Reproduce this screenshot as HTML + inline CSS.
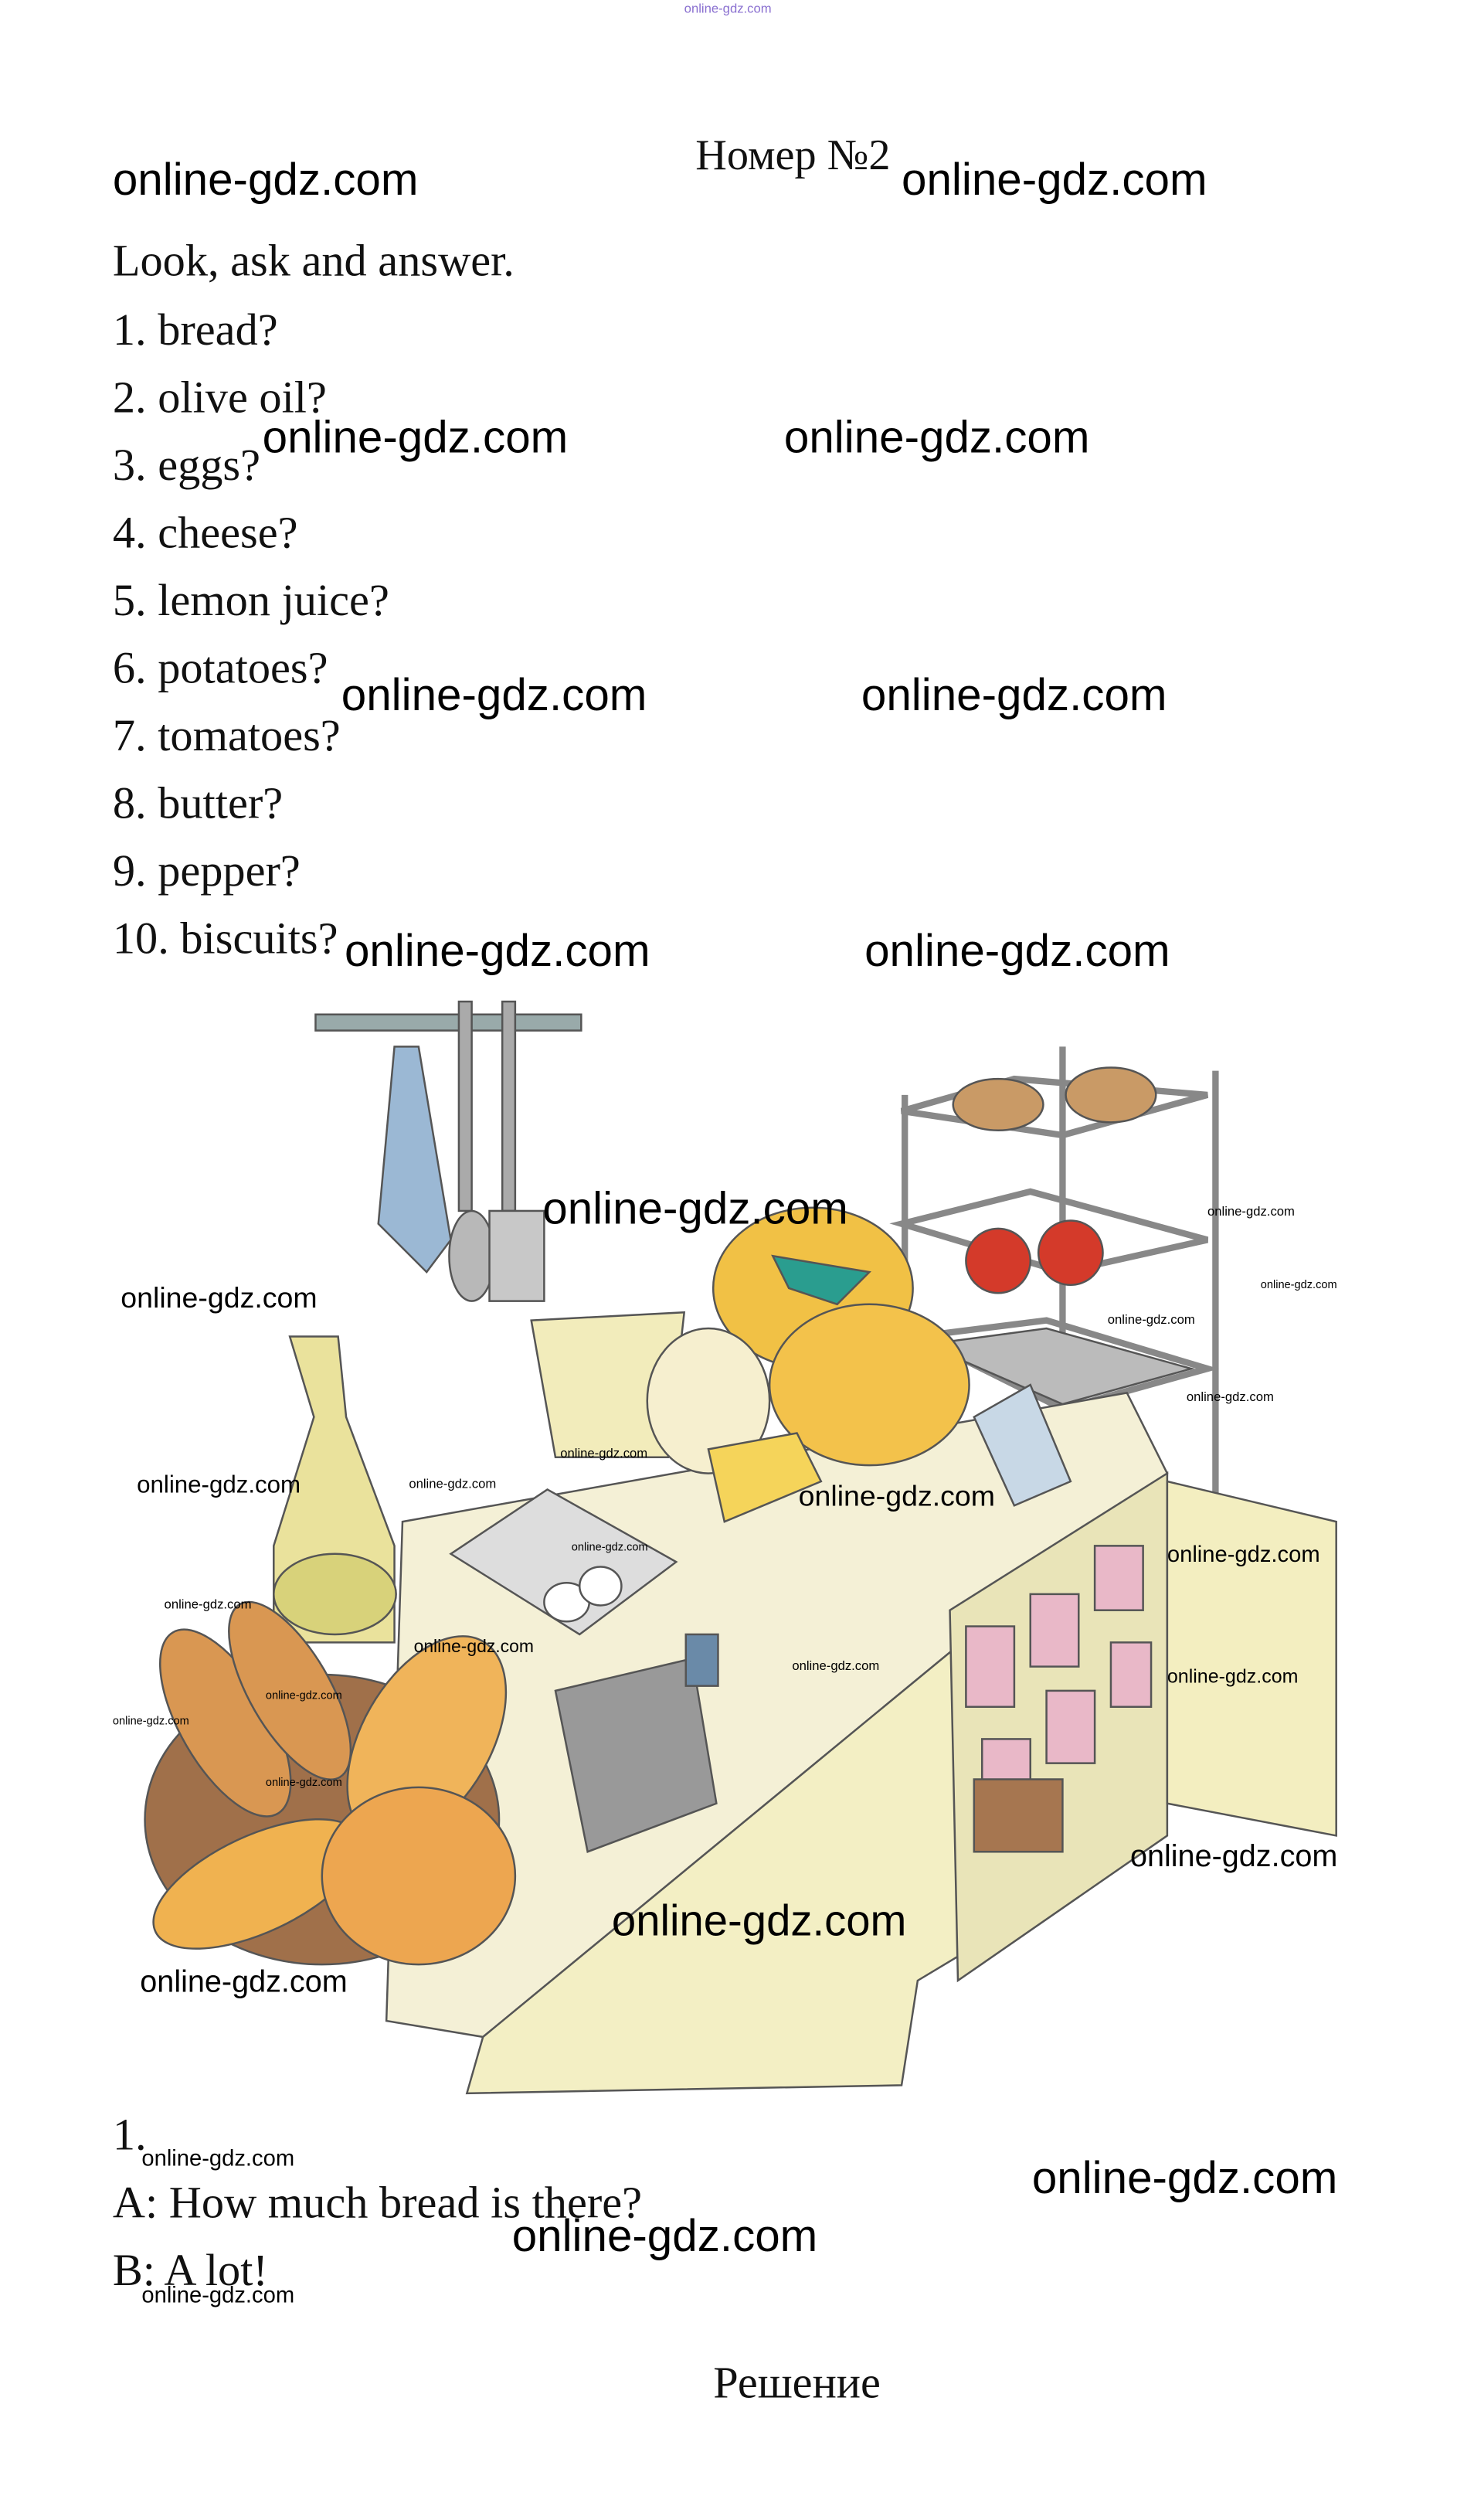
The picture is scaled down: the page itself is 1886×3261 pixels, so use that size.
<!DOCTYPE html>
<html><head><meta charset="utf-8"><style>
html,body{margin:0;padding:0;background:#fff;}
svg{display:block;}
.s{font-family:"Liberation Serif","DejaVu Serif",serif;fill:#111;}
.w{font-family:"Liberation Sans","DejaVu Sans",sans-serif;fill:#000;}
</style></head><body>
<svg width="1886" height="3261" viewBox="0 0 905 1565" preserveAspectRatio="none" xmlns="http://www.w3.org/2000/svg">
<rect width="905" height="1565" fill="#fff"/>
<text x="425" y="8" class="w" font-size="8" style="fill:#8a70d0">online-gdz.com</text>
<text x="432" y="105" class="s" font-size="27">Номер №2</text>
<g class="s" font-size="28" textLength="0">
<text x="70" y="171">Look, ask and answer.</text>
<text x="70" y="214">1. bread?</text>
<text x="70" y="256">2. olive oil?</text>
<text x="70" y="298">3. eggs?</text>
<text x="70" y="340">4. cheese?</text>
<text x="70" y="382">5. lemon juice?</text>
<text x="70" y="424">6. potatoes?</text>
<text x="70" y="466">7. tomatoes?</text>
<text x="70" y="508">8. butter?</text>
<text x="70" y="550">9. pepper?</text>
<text x="70" y="592">10. biscuits?</text>
</g>
<!-- illustration -->
<g stroke="#555" stroke-width="1.2">
<rect x="196" y="630" width="165" height="10" fill="#9aa" />
<path d="M245 650 L235 760 L265 790 L280 770 L260 650Z" fill="#9bb8d4"/>
<rect x="285" y="622" width="8" height="130" fill="#aaa"/>
<ellipse cx="293" cy="780" rx="14" ry="28" fill="#b8b8b8"/>
<rect x="312" y="622" width="8" height="130" fill="#aaa"/>
<rect x="304" y="752" width="34" height="56" fill="#c8c8c8"/>
<g fill="none" stroke="#888" stroke-width="4">
<line x1="562" y1="680" x2="562" y2="850"/><line x1="660" y1="650" x2="660" y2="870"/><line x1="755" y1="665" x2="755" y2="930"/>
<path d="M560 690 L630 670 L750 680 L660 705Z"/><path d="M560 760 L640 740 L750 770 L660 790Z"/><path d="M570 830 L650 820 L750 850 L660 875Z"/>
</g>
<ellipse cx="620" cy="686" rx="28" ry="16" fill="#c99a66"/><ellipse cx="690" cy="680" rx="28" ry="17" fill="#c99a66"/>
<circle cx="620" cy="783" r="20" fill="#d43a2a"/><circle cx="665" cy="778" r="20" fill="#d43a2a"/>
<path d="M575 835 L650 825 L740 850 L660 872Z" fill="#bbb"/>
<path d="M250 945 L700 865 L725 915 L300 1265 L240 1255Z" fill="#f4f0d6"/>
<path d="M300 1265 L725 915 L720 1140 L570 1230 L560 1295 L290 1300Z" fill="#f3efc4"/>
<path d="M590 1000 L725 915 L725 1140 L595 1230Z" fill="#e9e4b8"/>
<path d="M725 920 L830 945 L830 1140 L725 1120Z" fill="#f3eec0"/>
<g fill="#e9b8c8"><rect x="600" y="1010" width="30" height="50"/><rect x="640" y="990" width="30" height="45"/><rect x="680" y="960" width="30" height="40"/><rect x="610" y="1080" width="30" height="45"/><rect x="650" y="1050" width="30" height="45"/><rect x="690" y="1020" width="25" height="40"/></g>
<rect x="605" y="1105" width="55" height="45" fill="#a67650"/>
<path d="M180 830 L210 830 L215 880 L245 960 L245 1020 L170 1020 L170 960 L195 880Z" fill="#eae29c"/>
<ellipse cx="208" cy="990" rx="38" ry="25" fill="#d8d27a"/>
<path d="M330 820 L425 815 L415 905 L345 905Z" fill="#f2ecbb"/>
<ellipse cx="505" cy="800" rx="62" ry="50" fill="#f1c145"/>
<path d="M480 780 L540 790 L520 810 L490 800Z" fill="#2a9d8f"/>
<ellipse cx="540" cy="860" rx="62" ry="50" fill="#f3c24b"/>
<ellipse cx="440" cy="870" rx="38" ry="45" fill="#f6efcf"/>
<path d="M440 900 L495 890 L510 920 L450 945Z" fill="#f5d45a"/>
<path d="M605 880 L640 860 L665 920 L630 935Z" fill="#c8d8e6"/>
<path d="M280 965 L340 925 L420 970 L360 1015Z" fill="#ddd"/>
<ellipse cx="352" cy="995" rx="14" ry="12" fill="#fff"/><ellipse cx="373" cy="985" rx="13" ry="12" fill="#fff"/>
<path d="M345 1050 L430 1030 L445 1120 L365 1150Z" fill="#999"/>
<rect x="426" y="1015" width="20" height="32" fill="#6a8aa8"/>
<ellipse cx="200" cy="1130" rx="110" ry="90" fill="#a0704a"/>
<ellipse cx="140" cy="1070" rx="28" ry="65" fill="#d99752" transform="rotate(-30 140 1070)"/>
<ellipse cx="180" cy="1050" rx="25" ry="62" fill="#d99752" transform="rotate(-30 180 1050)"/>
<ellipse cx="265" cy="1080" rx="40" ry="70" fill="#f0b45a" transform="rotate(30 265 1080)"/>
<ellipse cx="160" cy="1170" rx="70" ry="30" fill="#f0b250" transform="rotate(-25 160 1170)"/>
<ellipse cx="260" cy="1165" rx="60" ry="55" fill="#eda650"/>
</g>
<g class="w">
<text x="70" y="121" font-size="28">online-gdz.com</text>
<text x="560" y="121" font-size="28">online-gdz.com</text>
<text x="163" y="281" font-size="28">online-gdz.com</text>
<text x="487" y="281" font-size="28">online-gdz.com</text>
<text x="212" y="441" font-size="28">online-gdz.com</text>
<text x="535" y="441" font-size="28">online-gdz.com</text>
<text x="214" y="600" font-size="28">online-gdz.com</text>
<text x="537" y="600" font-size="28">online-gdz.com</text>
<text x="337" y="760" font-size="28">online-gdz.com</text>
<text x="75" y="812" font-size="18">online-gdz.com</text>
<text x="85" y="927" font-size="15">online-gdz.com</text>
<text x="496" y="935" font-size="18">online-gdz.com</text>
<text x="725" y="970" font-size="14">online-gdz.com</text>
<text x="725" y="1045" font-size="12">online-gdz.com</text>
<text x="702" y="1159" font-size="19">online-gdz.com</text>
<text x="380" y="1202" font-size="27">online-gdz.com</text>
<text x="87" y="1237" font-size="19">online-gdz.com</text>
<text x="750" y="755" font-size="8">online-gdz.com</text>
<text x="783" y="800" font-size="7">online-gdz.com</text>
<text x="688" y="822" font-size="8">online-gdz.com</text>
<text x="737" y="870" font-size="8">online-gdz.com</text>
<text x="348" y="905" font-size="8">online-gdz.com</text>
<text x="254" y="924" font-size="8">online-gdz.com</text>
<text x="355" y="963" font-size="7">online-gdz.com</text>
<text x="102" y="999" font-size="8">online-gdz.com</text>
<text x="257" y="1026" font-size="11">online-gdz.com</text>
<text x="492" y="1037" font-size="8">online-gdz.com</text>
<text x="165" y="1055" font-size="7">online-gdz.com</text>
<text x="70" y="1071" font-size="7">online-gdz.com</text>
<text x="165" y="1109" font-size="7">online-gdz.com</text>
</g>
<g class="s" font-size="28">
<text x="70" y="1335">1.</text>
<text x="70" y="1377">A: How much bread is there?</text>
<text x="70" y="1419">B: A lot!</text>
<text x="443" y="1489">Решение</text>
</g>
<g class="w">
<text x="88" y="1345" font-size="14">online-gdz.com</text>
<text x="641" y="1362" font-size="28">online-gdz.com</text>
<text x="318" y="1398" font-size="28">online-gdz.com</text>
<text x="88" y="1430" font-size="14">online-gdz.com</text>
</g>
</svg>
</body></html>
